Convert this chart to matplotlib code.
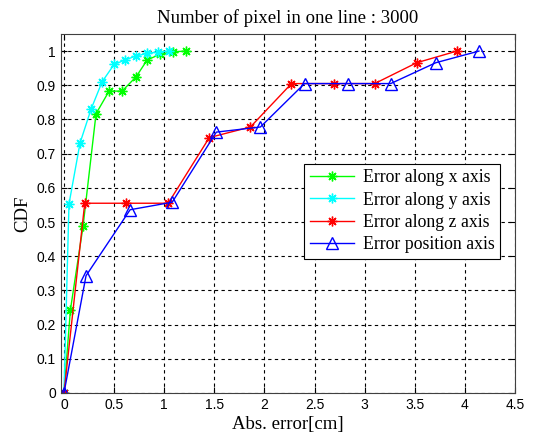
import matplotlib
matplotlib.use("Agg")
import matplotlib.pyplot as plt

# CDF of absolute error
err_x = [0, 0.064, 0.19, 0.32, 0.45, 0.58, 0.72, 0.83, 0.96, 1.09, 1.22]
cdf_x = [0, 0.243, 0.487, 0.817, 0.883, 0.883, 0.925, 0.974, 0.991, 0.998, 1.0]

err_y = [0, 0.05, 0.16, 0.27, 0.38, 0.50, 0.61, 0.72, 0.83, 0.94, 1.05]
cdf_y = [0, 0.553, 0.731, 0.83, 0.91, 0.961, 0.974, 0.986, 0.993, 0.998, 1.0]

err_z = [0, 0.207, 0.62, 1.04, 1.45, 1.86, 2.27, 2.69, 3.10, 3.52, 3.92]
cdf_z = [0, 0.555, 0.555, 0.555, 0.747, 0.778, 0.905, 0.905, 0.905, 0.966, 1.0]

err_p = [0, 0.22, 0.66, 1.08, 1.52, 1.96, 2.40, 2.83, 3.26, 3.71, 4.14]
cdf_p = [0, 0.343, 0.536, 0.558, 0.763, 0.778, 0.905, 0.905, 0.905, 0.966, 1.0]

labels = ['Error along x axis', 'Error along y axis', 'Error along z axis',
          'Error position axis']
xticks = [0, 0.5, 1, 1.5, 2, 2.5, 3, 3.5, 4, 4.5]
yticks = [0, 0.1, 0.2, 0.3, 0.4, 0.5, 0.6, 0.7, 0.8, 0.9, 1]

serif = 'Liberation Serif'
sans = 'Liberation Sans'
star = (8, 2, 0)  # matlab-like asterisk

fig = plt.figure(figsize=(5.33, 4.37), dpi=100)
ax = fig.add_axes([0.1144, 0.1007, 0.8518, 0.8215])

ax.plot(err_x, cdf_x, '-', marker=star, color=(0, 1, 0), lw=1, ms=7, mew=1, label=labels[0])
ax.plot(err_y, cdf_y, '-', marker=star, color=(0, 1, 1), lw=1, ms=7, mew=1, label=labels[1])
ax.plot(err_z, cdf_z, '-', marker=star, color=(1, 0, 0), lw=1, ms=7, mew=1, label=labels[2])
ax.plot(err_p, cdf_p, '-^', color=(0, 0, 1), lw=1, ms=8, mfc='none', label=labels[3])

ax.set_xlim(-0.03, 4.5)
ax.set_ylim(0, 1.05)
ax.set_xticks(xticks)
ax.set_xticklabels([('%g' % t) for t in xticks], fontfamily=sans, fontsize=10)
ax.set_yticks(yticks)
ax.set_yticklabels([('%g' % t) for t in yticks], fontfamily=sans, fontsize=10)
ax.tick_params(direction='in', top=True, right=True, length=4)
ax.grid(True, color='black', linestyle=(0, (3, 3)), linewidth=0.8)
for s in ax.spines.values():
    s.set_color('#404040')

ax.set_title('Number of pixel in one line : 3000', fontfamily=serif, fontsize=13.5, pad=8)
ax.set_xlabel('Abs. error[cm]', fontfamily=serif, fontsize=13.5, labelpad=3)
ax.set_ylabel('CDF', fontfamily=serif, fontsize=13.5, labelpad=4)

leg = ax.legend(loc='upper right', bbox_to_anchor=(0.967, 0.638),
                prop={'family': serif, 'size': 12.8}, fancybox=False,
                edgecolor='black', framealpha=1, handlelength=2.5,
                borderpad=0.3, labelspacing=0.3, borderaxespad=0,
                handletextpad=0.5)
leg.get_frame().set_linewidth(0.8)

fig.savefig('out.png', dpi=100)
